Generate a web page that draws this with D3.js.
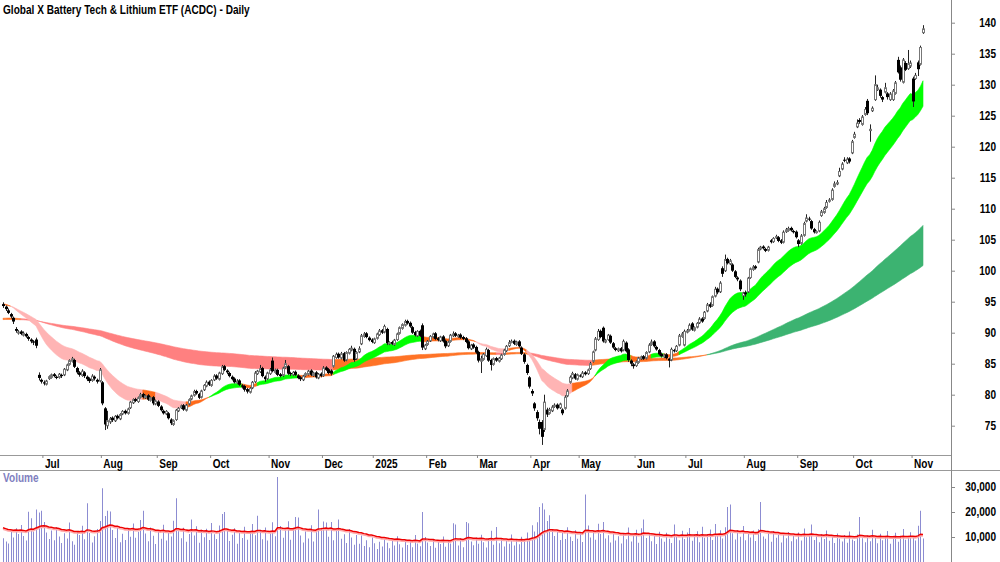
<!DOCTYPE html>
<html><head><meta charset="utf-8">
<script src="https://cdn.jsdelivr.net/npm/d3@7"></script>
<style>
body{margin:0;background:#fff;}
svg{display:block;}
text{font-family:"Liberation Sans",Arial,sans-serif;font-weight:bold;}
</style></head><body>
<svg id="c" width="1000" height="562"></svg>
<script>
const title = "Global X Battery Tech & Lithium ETF (ACDC) - Daily";
const monthLabels = ["Jul","Aug","Sep","Oct","Nov","Dec","2025","Feb","Mar","Apr","May","Jun","Jul","Aug","Sep","Oct","Nov"];
const monthStartIdx = [16,39,61,82,105,126,146,167,187,208,227,249,269,292,313,335,358];
const priceTicks = [75,80,85,90,95,100,105,110,115,120,125,130,135,140];
const volumeTicks = [10000,20000,30000];

const opens = [
94.6,94.2,93.6,93.0,92.4,90.6,90.0,90.2,89.6,89.8,89.3,88.9,88.6,88.9,83.2,82.4,82.0,81.7,82.6,82.8,
83.3,82.9,82.8,83.2,83.2,84.0,84.9,85.4,85.6,84.3,83.6,83.1,83.6,82.9,82.6,82.3,82.9,82.4,82.2,82.0,
77.8,75.0,75.6,76.3,75.8,76.6,76.1,76.9,77.4,77.0,77.9,78.7,79.3,78.9,79.6,80.1,79.5,79.9,79.1,79.6,
78.5,78.9,78.1,77.4,76.9,77.0,76.0,75.2,76.0,77.4,77.9,78.3,77.5,78.5,79.3,79.9,80.6,80.1,79.6,80.8,
81.4,82.1,81.5,82.4,83.1,82.5,83.4,84.6,83.9,83.5,82.9,82.6,81.9,82.3,81.5,81.4,80.9,80.4,81.1,82.1,
83.4,83.7,84.3,82.9,82.6,83.4,85.5,83.6,84.0,83.3,83.1,84.4,84.6,83.5,83.2,83.7,83.1,82.8,82.4,83.1,
83.3,83.9,83.1,83.6,82.7,83.4,83.1,84.4,84.1,83.9,84.6,86.0,86.6,85.9,86.7,85.6,86.7,87.2,87.4,85.8,
86.9,88.2,89.4,89.9,89.2,88.9,88.4,89.1,89.7,90.4,90.1,90.6,88.2,88.5,88.1,88.9,89.9,90.7,91.2,91.9,
91.6,90.9,90.1,89.5,90.3,91.2,87.4,88.1,88.7,89.3,89.9,89.1,88.7,89.4,88.7,87.9,88.6,89.5,89.9,89.4,
89.7,89.3,89.1,88.6,87.4,88.1,87.7,86.9,85.4,85.7,86.3,87.2,85.6,84.9,85.9,85.4,85.8,86.5,87.1,87.9,
88.5,88.7,88.1,88.6,87.6,86.5,84.8,82.8,80.6,78.6,77.2,75.6,75.6,74.4,77.6,77.0,77.4,78.1,78.4,77.9,
77.6,77.8,79.8,82.0,82.7,83.3,82.5,83.1,82.9,83.6,83.4,84.2,85.4,87.2,88.9,90.3,90.8,88.5,88.9,89.5,
88.3,87.5,87.1,87.5,87.2,88.4,87.3,85.5,84.9,84.7,85.2,85.8,86.2,85.9,86.9,88.1,88.6,87.7,87.2,86.6,
86.1,86.5,85.8,85.6,87.2,87.1,88.0,89.4,88.0,90.1,90.4,91.5,90.4,90.9,91.6,92.3,92.3,93.5,94.6,94.4,
95.9,97.1,96.6,100.4,100.0,101.9,101.1,101.0,99.9,98.9,98.4,96.0,96.5,96.6,98.9,100.2,100.7,101.4,103.5,103.9,
103.5,103.3,104.9,104.7,105.3,105.4,104.9,104.6,106.3,106.5,106.9,106.4,106.3,104.9,104.4,105.7,108.0,108.4,108.0,106.7,
106.2,106.4,108.9,109.4,110.2,111.2,111.5,113.6,114.0,115.3,116.4,117.9,117.4,118.1,119.0,121.5,123.2,124.3,123.6,125.2,
127.4,122.6,125.8,127.6,129.2,129.2,128.0,128.8,128.6,127.6,127.6,128.6,134.0,132.8,130.4,133.5,132.6,133.0,131.0,131.0,
133.6,133.3,138.4];

const highs = [
94.9,94.4,93.9,93.2,92.6,90.9,90.4,90.4,90.2,90.0,89.5,89.1,88.8,89.2,83.6,82.6,82.3,82.4,83.1,83.4,
83.5,83.1,83.5,83.4,84.3,85.0,85.7,86.1,85.8,84.5,83.8,84.1,83.8,83.1,82.8,83.3,83.1,82.6,84.3,82.2,
78.0,77.4,76.4,76.5,76.7,76.8,77.0,77.5,77.6,77.9,79.0,79.4,79.5,79.7,80.3,80.3,80.0,80.1,79.7,79.8,
79.2,79.1,78.3,77.6,77.5,77.2,76.2,76.0,77.7,78.0,78.4,78.5,78.5,79.4,80.0,80.8,80.8,80.3,80.8,81.7,
82.3,82.3,82.5,83.3,83.3,83.7,84.8,84.8,84.1,83.7,83.1,82.8,82.5,82.5,81.7,81.6,81.1,81.2,82.2,83.8,
84.0,84.8,84.5,83.1,83.7,84.3,86.0,84.2,84.2,83.5,84.5,85.6,84.8,83.7,83.8,83.9,83.3,83.0,83.2,83.6,
84.0,84.1,83.7,83.8,83.5,83.6,84.6,84.6,84.3,84.1,86.4,86.8,86.8,86.9,86.9,87.0,87.5,87.9,87.6,87.0,
87.8,89.8,90.1,90.1,89.4,89.1,89.2,90.0,90.6,90.6,91.3,90.8,88.6,88.7,89.0,90.0,91.0,91.5,92.1,92.1,
91.8,91.1,90.3,90.4,90.5,91.5,88.2,88.8,89.6,90.0,90.1,89.3,89.5,89.6,88.9,88.7,89.8,90.2,90.1,89.8,
89.9,89.5,89.3,88.8,88.2,88.3,87.9,87.1,86.3,86.7,87.6,87.4,85.8,86.0,86.1,86.1,86.6,87.4,88.0,88.8,
88.9,88.9,88.7,88.8,87.8,86.7,85.0,83.0,80.9,78.8,77.5,76.0,75.9,80.0,77.9,77.9,78.3,78.6,78.6,78.7,
77.8,79.9,80.9,83.1,83.7,83.5,83.4,83.3,83.8,83.8,84.2,85.3,87.1,89.3,90.6,90.5,91.0,89.0,89.8,89.7,
88.5,87.7,87.6,87.7,88.9,88.6,87.5,85.7,85.1,85.5,86.1,86.3,86.4,87.0,88.3,88.9,88.8,87.9,87.4,86.8,
86.6,86.7,86.0,87.6,87.4,88.0,89.8,90.1,90.5,90.6,91.5,91.7,91.0,91.7,92.5,92.5,93.5,94.8,94.9,96.0,
97.4,97.3,98.3,100.7,102.6,102.1,101.9,101.2,100.1,99.1,98.6,96.6,96.8,99.0,100.5,100.9,100.9,103.7,104.0,104.1,
103.7,104.0,105.1,105.4,105.8,105.6,105.1,106.5,106.9,107.1,107.1,106.6,106.5,105.1,105.9,107.9,109.1,108.7,108.2,106.9,
106.5,108.1,109.8,110.3,111.4,111.7,113.3,114.4,114.6,116.6,117.5,118.3,118.3,118.3,121.1,122.4,124.4,124.6,125.1,126.4,
127.7,123.6,126.5,131.5,130.0,129.4,128.2,130.3,128.8,128.8,129.3,130.6,134.5,133.1,134.3,133.8,135.6,133.9,131.3,131.9,
133.9,136.3,139.6];

const lows = [
94.0,93.5,93.0,92.3,91.4,90.0,89.7,89.6,89.4,89.2,88.7,88.3,88.0,87.5,82.3,81.8,81.5,81.5,82.4,82.6,
82.8,82.5,82.6,82.7,83.0,83.8,84.7,85.2,84.3,83.3,82.9,82.9,82.7,82.2,81.9,82.1,82.3,81.8,82.0,78.3,
74.3,74.5,75.3,75.6,75.6,76.0,75.9,76.7,76.8,76.8,77.7,78.5,78.8,78.7,79.4,79.4,79.3,79.0,78.9,78.3,
78.3,78.0,77.3,76.8,76.7,76.0,75.1,75.0,75.8,77.2,77.7,77.4,77.3,78.3,79.1,79.7,80.0,79.3,79.4,80.6,
81.2,81.4,81.3,82.2,82.4,82.3,83.2,83.8,83.3,82.8,82.3,81.8,81.7,81.4,81.0,80.5,80.2,80.2,80.9,81.9,
83.2,83.5,82.8,82.1,82.4,83.2,83.6,83.4,83.0,82.8,82.9,84.2,83.2,83.0,83.0,83.0,82.5,82.2,82.2,82.9,
83.1,83.0,82.9,82.6,82.5,82.8,82.9,83.8,83.3,83.1,84.4,85.8,85.8,85.7,85.3,85.4,86.5,87.0,85.3,85.6,
86.7,88.0,89.2,89.1,88.6,88.3,88.2,88.9,89.5,89.8,89.9,88.0,88.0,88.0,87.9,88.7,89.7,90.5,91.0,91.3,
90.8,89.8,89.4,89.3,89.3,87.2,87.2,87.9,88.5,89.1,88.8,88.6,88.5,88.4,87.5,87.7,88.4,89.3,89.3,89.2,
89.0,88.8,88.3,87.3,87.2,87.4,86.6,85.2,83.5,85.5,86.1,85.3,83.9,84.7,85.3,85.2,85.6,86.3,86.9,87.7,
88.3,88.0,87.9,87.6,86.4,85.0,83.2,81.0,79.8,77.4,75.8,73.6,71.9,74.0,76.4,76.8,77.2,77.9,77.6,77.7,
76.7,77.6,79.6,81.8,82.5,82.4,82.3,82.8,82.7,83.1,83.2,84.0,85.2,87.0,88.7,89.1,88.4,88.3,88.7,88.2,
87.4,87.0,86.9,86.8,87.0,86.8,85.3,84.6,84.2,84.5,85.0,85.6,85.6,85.7,86.7,87.9,87.6,87.1,86.3,86.0,
85.9,85.7,84.4,85.4,86.8,86.9,87.8,89.2,87.8,89.9,90.2,90.3,90.2,90.7,91.4,91.6,92.1,93.3,94.0,94.2,
95.7,96.2,96.4,99.0,99.8,101.0,100.9,99.8,98.8,98.3,96.7,95.3,95.8,96.4,98.7,100.0,100.2,101.2,103.3,103.4,
103.0,103.1,104.4,104.5,105.1,104.6,104.3,104.4,106.1,106.3,106.3,106.0,105.2,103.8,104.2,105.5,107.8,108.0,106.6,106.0,
106.0,106.2,108.7,109.2,110.0,111.0,111.3,113.4,113.8,115.1,116.2,117.5,117.2,117.3,118.8,121.3,123.0,123.7,123.4,125.0,
125.1,120.8,125.6,127.4,129.0,127.9,127.2,128.6,127.6,127.4,127.4,128.4,131.8,130.5,130.2,132.2,132.4,132.7,126.4,130.8,
131.4,133.1,138.2];

const closes = [
94.3,93.8,93.2,92.6,91.8,90.3,90.1,89.8,89.9,89.4,89.0,88.6,88.4,87.9,82.7,82.1,81.8,82.2,82.9,83.2,
83.0,82.7,83.3,83.0,84.1,84.8,85.5,85.8,84.5,83.6,83.2,83.8,83.0,82.5,82.2,83.0,82.6,82.1,84.0,78.6,
75.2,75.8,76.1,75.9,76.5,76.2,76.8,77.3,77.0,77.7,78.8,79.2,79.0,79.5,80.0,79.6,79.8,79.2,79.5,78.6,
79.0,78.2,77.5,77.0,77.3,76.2,75.4,75.8,77.5,77.8,78.2,77.6,78.3,79.2,79.8,80.5,80.2,79.5,80.6,81.5,
82.0,81.6,82.3,83.0,82.6,83.5,84.5,84.0,83.6,83.0,82.5,82.0,82.2,81.6,81.3,80.8,80.5,81.0,82.0,83.5,
83.8,84.2,83.0,82.5,83.5,84.0,83.8,84.0,83.2,83.0,84.3,85.0,83.4,83.3,83.6,83.2,82.7,82.5,83.0,83.4,
83.8,83.2,83.5,82.8,83.3,83.0,84.3,84.0,83.5,83.4,86.2,86.5,86.0,86.6,85.5,86.8,87.3,87.5,85.6,86.8,
87.4,89.5,89.8,89.3,88.8,88.5,89.0,89.8,90.3,90.0,91.0,88.3,88.4,88.2,88.8,89.8,90.8,91.3,91.8,91.5,
91.0,90.0,89.6,90.2,89.5,87.6,88.0,88.6,89.4,89.8,89.0,88.8,89.3,88.6,87.8,88.5,89.6,89.8,89.5,89.6,
89.2,89.0,88.5,87.5,88.0,87.6,86.8,85.5,85.8,86.5,87.3,85.5,84.8,85.8,85.5,85.9,86.4,87.2,87.8,88.4,
88.6,88.2,88.5,87.8,86.6,85.3,83.5,81.3,80.2,77.8,76.2,74.5,73.2,78.8,76.8,77.6,78.0,78.3,77.8,78.5,
77.0,79.6,80.6,82.8,83.4,82.6,83.2,83.0,83.5,83.3,84.0,85.0,86.9,89.0,90.2,89.3,88.6,88.8,89.6,88.4,
87.6,87.2,87.4,87.0,88.6,87.0,85.6,85.0,84.6,85.3,85.9,86.1,85.8,86.8,88.0,88.5,87.8,87.3,86.5,86.2,
86.4,85.9,85.5,87.3,87.0,87.8,89.5,89.8,90.2,90.3,91.2,90.5,90.8,91.5,92.2,91.8,93.3,94.5,94.2,95.8,
97.0,96.5,98.0,99.5,101.8,101.2,101.6,100.0,99.0,98.6,97.0,96.4,96.2,98.8,100.3,100.6,100.4,103.4,103.8,103.6,
103.2,103.8,104.6,105.2,105.5,104.8,104.5,106.2,106.6,106.8,106.5,106.2,105.4,104.3,105.6,107.6,108.5,108.3,106.8,106.2,
106.3,107.8,109.5,110.0,111.0,111.4,113.0,114.0,114.2,116.0,117.2,117.8,118.0,117.6,120.8,122.0,123.8,124.0,124.8,126.0,
125.4,122.8,126.2,130.0,129.5,128.2,127.6,129.5,128.0,128.5,129.0,130.3,132.0,130.8,134.0,132.4,133.4,133.5,127.3,131.5,
132.5,136.0,139.0];

const volumes = [
9500,8200,7400,12000,9800,13500,11200,14800,10400,8600,20100,17500,12200,21000,19800,20500,16000,11800,9200,12600,
8700,13900,10200,7600,11500,9400,15800,8300,6900,12400,10800,14500,9100,23500,11600,7800,10300,13200,16400,29500,
18400,20500,20200,12800,9600,14200,7900,11300,8800,13600,10100,15400,9700,12100,16800,20500,11400,8300,13800,10500,
7200,12600,9300,14900,8600,11800,10200,16500,25500,12300,9500,13700,8100,11200,17000,10600,14300,7700,12900,9900,
13300,8800,15600,11100,9200,14600,19200,20000,12700,8400,10900,13500,7300,11700,9600,14100,8900,12300,15200,10700,
18500,12900,9100,13800,8600,11400,15900,10300,34000,14400,9700,12600,16300,8900,13100,18000,17800,10600,7800,12200,
9400,14700,8200,11900,21000,13600,16200,15800,10100,16000,8700,12400,17000,9300,11100,7600,13200,9800,6900,10800,
7300,10600,6400,8700,5900,9800,7500,5200,8100,6200,9100,7700,5500,8500,6600,10300,7100,5800,8900,6800,
8300,5900,10800,7400,6300,20000,10000,7800,6400,9300,5700,8000,7200,10200,6100,8600,7400,15500,15000,6600,
9500,5900,16000,15500,8200,6700,9800,7300,10900,7900,5800,9400,12500,6900,14000,7500,9600,6200,8400,7300,
11000,6600,9000,7100,10100,8700,11800,9500,14700,12200,15900,22000,23500,21000,16400,18700,13100,10400,12800,8800,
11600,9200,13900,10100,8400,12700,9300,11900,8000,27000,14600,9800,12400,8900,15300,11200,16000,9400,10700,7800,
12000,8600,10300,7400,11600,9100,13800,8200,10500,12900,7700,13500,17000,9600,11300,8300,10800,7200,12100,9400,
8100,11700,9300,7600,15000,10400,8700,12500,9200,11800,13600,8500,10900,12300,7900,14100,9700,11200,13000,8800,
15200,10600,12700,9400,13900,22000,23000,11500,9000,12800,10100,14400,8700,11300,9800,12600,8400,13100,24000,10200,
9300,11600,8100,12400,9700,10900,7800,11200,9500,12000,8300,10400,9100,11800,8600,13400,9900,10700,15000,8800,
10300,7900,11100,9200,12600,8500,10000,7600,11400,9300,8200,10800,7700,12200,9000,8400,11000,18000,9500,7900,
10600,8300,12900,9800,7500,11300,8700,10100,12400,7300,9600,11700,8100,10500,13200,8900,9700,11900,10300,8600,
14500,20500,9400];

const shortPeriods = [20, 35];
const longPeriods = [150, 250];
const shortStart = [94.7, 94.5];
const longStart = [92.3, 92.1];
const volMaPeriod = 30;
const volMaStart = 14000;

const n = Math.min(opens.length, highs.length, lows.length, closes.length, volumes.length);
const svg = d3.select('#c');
const axisX = 951;
const x = d3.scaleLinear().domain([0, 362]).range([3, 923]);
const y = d3.scaleLinear().domain([75, 140]).range([425.7, 22.7]);
const yv = d3.scaleLinear().domain([0, 30000]).range([562, 487]);

function ema(vals, period, start) {
  const a = 2 / (period + 1); let e = start;
  return vals.map(v => (e = e + a * (v - e)));
}
const cl = closes.slice(0, n);
const sF = ema(cl, shortPeriods[0], shortStart[0]), sS = ema(cl, shortPeriods[1], shortStart[1]);
const lF = ema(cl, longPeriods[0], longStart[0]), lS = ema(cl, longPeriods[1], longStart[1]);

function ribbon(fast, slow, rule, colors) {
  const g = svg.append('g');
  const mid = fast.map((f, i) => (f + slow[i]) / 2);
  const K = 5;
  const st = mid.map((m, i) => {
    let a = Math.max(0, i - K), b = i;
    if (b - a < 1) b = Math.min(n - 1, a + 1);
    const sl = (mid[b] - mid[a]) / mid[a] / (b - a) * 100;
    return rule(fast[i] > slow[i], sl);
  });
  const area = d3.area().x(k => x(k)).y0(k => y(fast[k])).y1(k => y(slow[k]));
  let s = 0;
  for (let i = 1; i <= n; i++) {
    if (i === n || st[i] !== st[s]) {
      const idx = d3.range(s, Math.min(i + 1, n));
      if (idx.length > 1) {
        g.append('path').datum(idx).attr('d', area)
          .attr('fill', colors[st[s]]).attr('stroke', colors[st[s]]).attr('stroke-width', 0.6);
      }
      s = i;
    }
  }
}
ribbon(lF, lS, (above, sl) => (above && sl > 0.07) ? 'up' : (sl < -0.01 ? 'down' : 'flat'),
  {up: '#3cb371', flat: '#ff7326', down: '#ff8080'});
ribbon(sF, sS, (above, sl) => (above && sl > 0.06) ? 'up' : ((!above && sl < -0.05) ? 'down' : 'flat'),
  {up: '#00ff00', flat: '#ff6a1a', down: '#ffb4b4'});

// candles
const cg = svg.append('g');
for (let i = 0; i < n; i++) {
  const cx = Math.round(x(i)) + 0.5;
  const o = opens[i], c = closes[i];
  cg.append('line').attr('x1', cx).attr('x2', cx)
    .attr('y1', y(highs[i])).attr('y2', y(lows[i]))
    .attr('stroke', '#222').attr('stroke-width', 1);
  const top = y(Math.max(o, c)), bot = y(Math.min(o, c));
  const h = Math.max(1, bot - top);
  if (c >= o) {
    cg.append('rect').attr('x', cx - 1).attr('y', top).attr('width', 2).attr('height', h)
      .attr('fill', '#fff').attr('stroke', '#777').attr('stroke-width', 1);
  } else {
    cg.append('rect').attr('x', cx - 1.5).attr('y', top).attr('width', 3).attr('height', h)
      .attr('fill', '#000');
  }
}

// frame lines
svg.append('line').attr('x1', 0).attr('x2', axisX).attr('y1', 455.5).attr('y2', 455.5).attr('stroke', '#999');
svg.append('line').attr('x1', 0).attr('x2', 1000).attr('y1', 470.5).attr('y2', 470.5).attr('stroke', '#999');
svg.append('line').attr('x1', axisX + 0.5).attr('x2', axisX + 0.5).attr('y1', 0).attr('y2', 562).attr('stroke', '#888');

// title
svg.append('text').attr('x', 3).attr('y', 13.5).attr('font-size', 12).attr('fill', '#000').text(title);

// price axis
const pa = svg.append('g').attr('transform', `translate(${axisX},0)`)
  .call(d3.axisRight(y).tickValues(priceTicks).tickSize(4).tickFormat(d3.format('d')));
pa.select('.domain').remove();
pa.selectAll('.tick line').attr('stroke', '#888');
pa.selectAll('.tick text').attr('x', 45).attr('text-anchor', 'end')
  .attr('font-size', 12).attr('font-family', null).attr('fill', '#000');

// month axis
const ma = svg.append('g').attr('transform', 'translate(0,455)')
  .call(d3.axisBottom(x).tickValues(monthStartIdx.map(i => i - 0.5)).tickSize(3)
    .tickFormat((d, k) => monthLabels[k]));
ma.select('.domain').remove();
ma.selectAll('.tick line').attr('stroke', '#888');
ma.selectAll('.tick text').attr('x', 2).attr('y', 4).attr('dy', '0.71em').attr('text-anchor', 'start')
  .attr('font-size', 12).attr('font-family', null).attr('fill', '#000');

// volume
const vg = svg.append('g');
for (let i = 0; i < n; i++) {
  const cx = Math.round(x(i)) + 0.5;
  vg.append('line').attr('x1', cx).attr('x2', cx).attr('y1', yv(0)).attr('y2', yv(volumes[i]))
    .attr('stroke', '#8c8cd2').attr('stroke-width', 1);
}
const vma = ema(volumes.slice(0, n), volMaPeriod, volMaStart);
const vline = d3.line().x((d, i) => x(i)).y(d => yv(d));
svg.append('path').datum(vma).attr('d', vline).attr('transform', 'translate(0,1.5)')
  .attr('fill', 'none').attr('stroke', '#ffaaaa').attr('stroke-width', 1.5);
svg.append('path').datum(vma).attr('d', vline)
  .attr('fill', 'none').attr('stroke', '#ee0000').attr('stroke-width', 1.5);
svg.append('text').attr('x', 3).attr('y', 482).attr('font-size', 12).attr('fill', '#8080c0').text('Volume');

const va = svg.append('g').attr('transform', `translate(${axisX},0)`)
  .call(d3.axisRight(yv).tickValues(volumeTicks).tickSize(4).tickFormat(d3.format(',')));
va.select('.domain').remove();
va.selectAll('.tick line').attr('stroke', '#888');
va.selectAll('.tick text').attr('x', 45).attr('text-anchor', 'end')
  .attr('font-size', 12).attr('font-family', null).attr('fill', '#000');

// narrow lettering like the original condensed font (horizontal scale about each text's anchor)
svg.selectAll('text').each(function () {
  const t = d3.select(this);
  const tx = +t.attr('x') || 0, ty = +t.attr('y') || 0;
  t.attr('x', 0).attr('y', 0).attr('transform', `translate(${tx},${ty}) scale(0.84,1)`);
});
</script>
</body></html>
